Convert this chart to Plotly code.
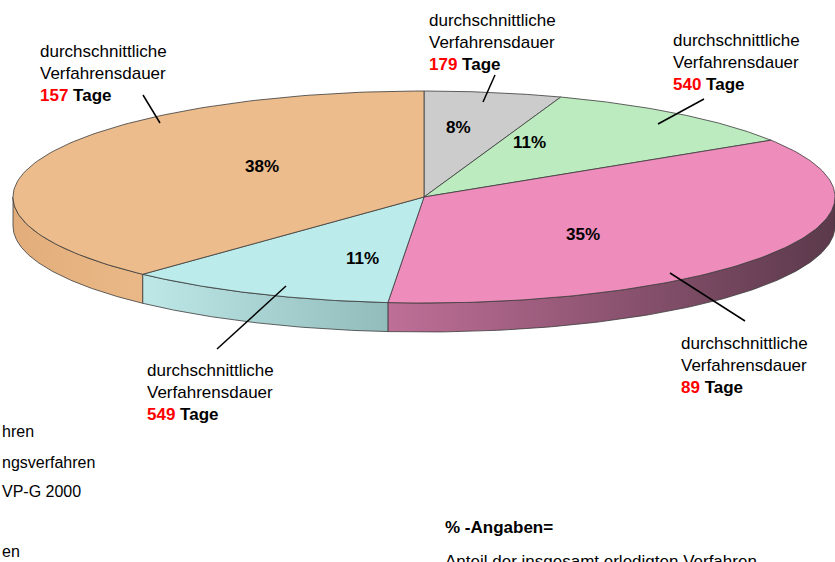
import numpy as np
import plotly.graph_objects as go

# ---- data (clockwise from 12 o'clock) ----
durations_days = [179, 540, 89, 549, 157]          # durchschnittliche Verfahrensdauer
pct_labels = ["8%", "11%", "35%", "11%", "38%"]    # printed percentage labels
slice_share = [5.4, 10.6, 35.4, 10.6, 38.0]        # share of the ellipse as drawn

# ---- styling / layout ----
top_colors = ["#CCCCCC", "#BBEBBE", "#EE8CBB", "#BCEBEB", "#ECBC8C"]
side_grad = [None, None,
             ["#BF6F97", "#5B394B"],
             ["#BEE7E7", "#92BBBB"],
             ["#E2AD7B", "#EAB887"]]
pct_pos = [(458, 127), (529, 142), (583, 234), (362, 258), (262, 166)]
callout_pos = [(429, 42), (673, 62), (681, 365), (147, 392), (40, 73.5)]
leader = [((495, 75), (483, 102)), ((704, 99), (658, 124)), ((670, 273), (745, 321)),
          ((286, 286), (217, 349)), ((143, 95), (160, 123))]

cx, cy, rx, ry, depth = 424, 197, 411, 106, 29
W, H = 835, 562
FONT = "Liberation Sans, Arial, sans-serif"


def rim(t0, t1, n=120):
    t = np.radians(np.linspace(t0, t1, n))
    return cx + rx * np.sin(t), cy - ry * np.cos(t)


fig = go.Figure()

total = sum(slice_share)
bounds = np.concatenate([[0], np.cumsum(slice_share) / total * 360])

# side faces (front half only)
for i in range(len(slice_share)):
    a, b = max(bounds[i], 90), min(bounds[i + 1], 270)
    if a >= b or side_grad[i] is None:
        continue
    xs, ys = rim(a, b)
    px = np.concatenate([xs, xs[::-1], [xs[0]]])
    py = np.concatenate([ys, ys[::-1] + depth, [ys[0]]])
    fig.add_trace(go.Scatter(
        x=px, y=py, mode="lines", fill="toself",
        fillgradient=dict(type="horizontal",
                          colorscale=[[0, side_grad[i][0]], [1, side_grad[i][1]]]),
        line=dict(color="#3a3a3a", width=0.8), hoverinfo="skip", showlegend=False))

# top faces
for i in range(len(slice_share)):
    xs, ys = rim(bounds[i], bounds[i + 1])
    px = np.concatenate([[cx], xs, [cx]])
    py = np.concatenate([[cy], ys, [cy]])
    fig.add_trace(go.Scatter(
        x=px, y=py, mode="lines", fill="toself", fillcolor=top_colors[i],
        line=dict(color="#3a3a3a", width=0.8), hoverinfo="skip", showlegend=False))

annotations = []
for lab, (x, y) in zip(pct_labels, pct_pos):
    annotations.append(dict(x=x, y=y, text="<b>%s</b>" % lab, showarrow=False,
                            font=dict(family=FONT, size=17, color="#000")))
for d, (x, y) in zip(durations_days, callout_pos):
    annotations.append(dict(
        x=x - 2, y=y, xanchor="left", yanchor="middle", align="left", showarrow=False,
        text="durchschnittliche<br>Verfahrensdauer<br><span style='color:#FF0000'><b>%d</b></span><b> Tage</b>" % d,
        font=dict(family=FONT, size=17, color="#000")))

left_texts = [("hren", 431), ("ngsverfahren", 462), ("VP-G 2000", 491), ("en", 551)]
for t, y in left_texts:
    annotations.append(dict(x=0, y=y, xanchor="left", yanchor="middle", text=t,
                            showarrow=False, font=dict(family=FONT, size=16, color="#000")))
annotations.append(dict(x=443, y=527, xanchor="left", yanchor="middle", text="<b>% -Angaben=</b>",
                        showarrow=False, font=dict(family=FONT, size=17, color="#000")))
annotations.append(dict(x=443, y=561, xanchor="left", yanchor="middle",
                        text="Anteil der insgesamt erledigten Verfahren",
                        showarrow=False, font=dict(family=FONT, size=17, color="#000")))

shapes = [dict(type="line", x0=p[0], y0=p[1], x1=q[0], y1=q[1], xref="x", yref="y",
               line=dict(color="#000", width=1.5)) for p, q in leader]

fig.update_layout(
    width=W, height=H, margin=dict(l=0, r=0, t=0, b=0),
    paper_bgcolor="white", plot_bgcolor="white",
    xaxis=dict(range=[0, W], visible=False, fixedrange=True),
    yaxis=dict(range=[H, 0], visible=False, fixedrange=True),
    annotations=annotations, shapes=shapes, showlegend=False)

fig.write_html("out.html", config={"displayModeBar": False},
               post_script="document.body.style.margin='0px';document.body.style.overflow='hidden';")
